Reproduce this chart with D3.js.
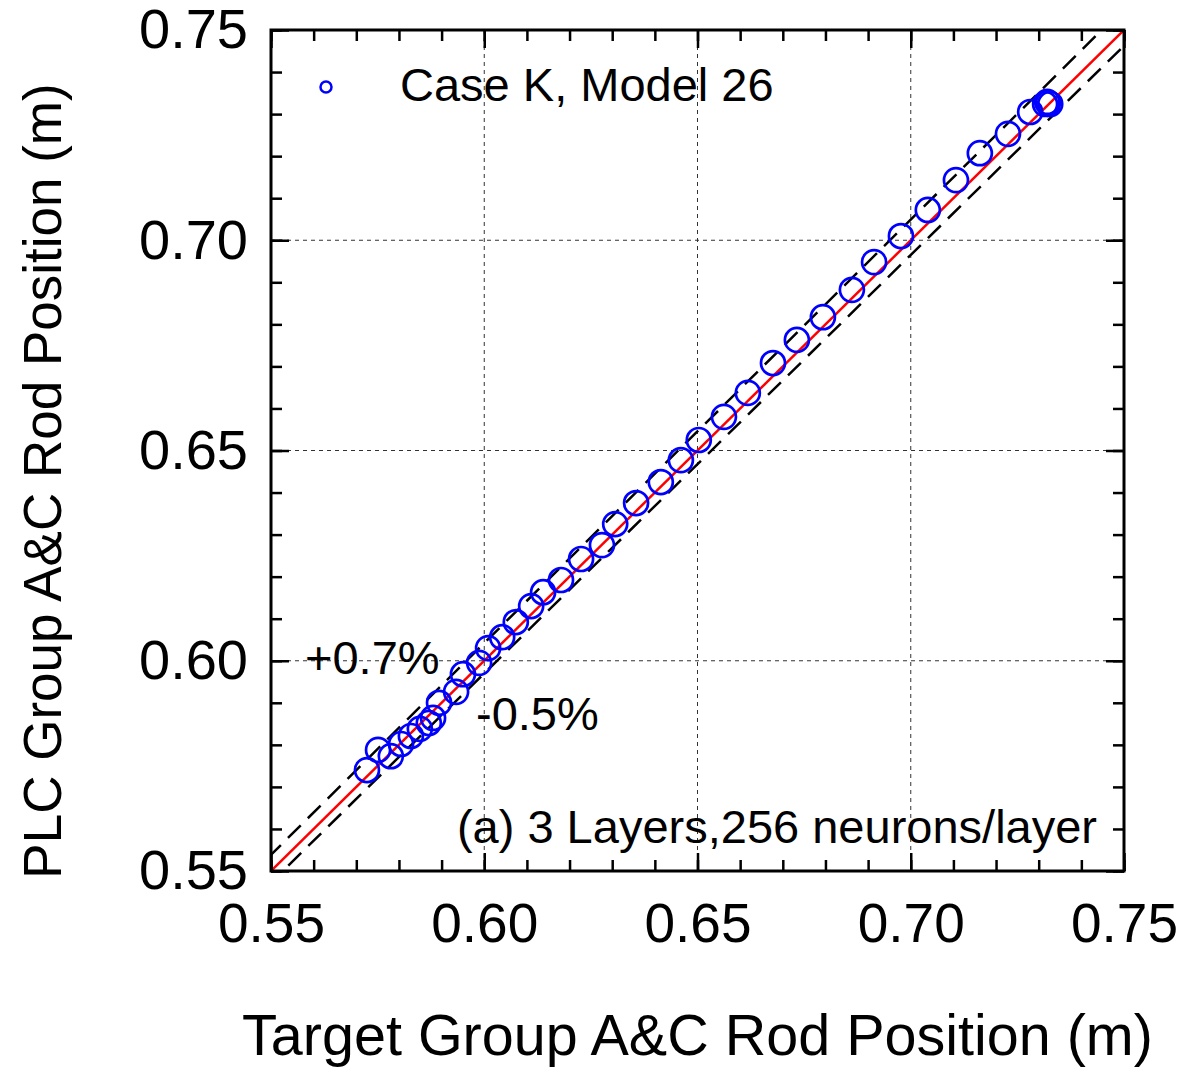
<!DOCTYPE html>
<html>
<head>
<meta charset="utf-8">
<style>
  html, body { margin: 0; padding: 0; background: #fff; }
  svg text { font-family: "Liberation Sans", Arial, sans-serif; fill: #000; }
  .tick line { stroke: #000; stroke-width: 2.5; }
  .domain { display: none; }
  .grid line { stroke: #333; stroke-width: 1; stroke-dasharray: 4,4; }
</style>
</head>
<body>
<div id="chart"></div>
<script src="https://d3js.org/d3.v7.min.js"></script>
<script>

// Target (x) vs PLC (y) group A&C rod position, metres
var targetPos = [0.5725, 0.5751, 0.5781, 0.5805, 0.5828, 0.5849, 0.5870, 0.5880, 0.5894, 0.5934,
                 0.5950, 0.5988, 0.6009, 0.6042, 0.6074, 0.6110, 0.6138, 0.6180, 0.6227, 0.6276,
                 0.6307, 0.6356, 0.6414, 0.6461, 0.6503, 0.6562, 0.6618, 0.6677, 0.6733, 0.6794,
                 0.6862, 0.6914, 0.6977, 0.7040, 0.7106, 0.7162, 0.7228, 0.7280, 0.7315, 0.7322,
                 0.7327, 0.7320];
var plcPos    = [0.5740, 0.5788, 0.5773, 0.5802, 0.5821, 0.5838, 0.5852, 0.5864, 0.5900, 0.5926,
                 0.5968, 0.5995, 0.6030, 0.6056, 0.6092, 0.6130, 0.6163, 0.6192, 0.6242, 0.6275,
                 0.6325, 0.6375, 0.6425, 0.6477, 0.6525, 0.6580, 0.6637, 0.6708, 0.6763, 0.6817,
                 0.6882, 0.6948, 0.7010, 0.7072, 0.7143, 0.7207, 0.7253, 0.7305, 0.7324, 0.7327,
                 0.7324, 0.7329];

var majorTicks = [0.55, 0.60, 0.65, 0.70, 0.75];
var gridTicks = [0.60, 0.65, 0.70];
var minorTicks = d3.range(0, 21).map(function(i) { return 0.55 + i * 0.01; });
var bandFactors = [1.007, 0.995];
var bandLabels = ["+0.7%", "-0.5%"];
var seriesName = "Case K, Model 26";
var noteText = "(a) 3 Layers,256 neurons/layer";

var W = 1184, H = 1068;
var margin = {top: 30, right: 60, bottom: 197, left: 271},
    width = W - margin.left - margin.right,
    height = H - margin.top - margin.bottom;

var x = d3.scaleLinear().domain([0.55, 0.75]).range([0, width]);
var y = d3.scaleLinear().domain([0.55, 0.75]).range([height, 0]);
var fmt = d3.format(".2f");

var svg = d3.select("#chart").append("svg")
    .attr("width", W)
    .attr("height", H)
  .append("g")
    .attr("transform", "translate(" + margin.left + "," + margin.top + ")");

svg.append("defs").append("clipPath").attr("id", "clip")
  .append("rect").attr("width", width).attr("height", height);

// grid
svg.append("g").attr("class", "grid")
  .selectAll("line.v").data(gridTicks).enter().append("line")
    .attr("x1", function(d) { return x(d); }).attr("x2", function(d) { return x(d); })
    .attr("y1", 0).attr("y2", height);
svg.select(".grid")
  .selectAll("line.h").data(gridTicks).enter().append("line")
    .attr("y1", function(d) { return y(d); }).attr("y2", function(d) { return y(d); })
    .attr("x1", 0).attr("x2", width);

// error band lines and 1:1 line
var lines = svg.append("g").attr("clip-path", "url(#clip)");
lines.selectAll("line.band").data(bandFactors).enter().append("line")
    .attr("x1", x(0.54)).attr("y1", function(f) { return y(0.54 * f); })
    .attr("x2", x(0.76)).attr("y2", function(f) { return y(0.76 * f); })
    .attr("stroke", "#000").attr("stroke-width", 2.5).attr("stroke-dasharray", "18,10");
lines.append("line")
    .attr("x1", x(0.55)).attr("y1", y(0.55))
    .attr("x2", x(0.75)).attr("y2", y(0.75))
    .attr("stroke", "#ff0000").attr("stroke-width", 2.5);

// points
svg.append("g").selectAll("circle").data(targetPos).enter().append("circle")
    .attr("cx", function(d) { return x(d); })
    .attr("cy", function(d, i) { return y(plcPos[i]); })
    .attr("r", 12)
    .attr("fill", "none")
    .attr("stroke", "#0000ff")
    .attr("stroke-width", 2.7);

// axes, ticks pointing inward
function axis(gen, ticks, size, labels) {
  return gen.tickValues(ticks).tickSize(-size)
    .tickFormat(labels ? fmt : "").tickPadding(labels ? 32 : 0);
}
svg.append("g").attr("transform", "translate(0," + height + ")")
    .call(axis(d3.axisBottom(x), minorTicks, 11, false));
var xa = svg.append("g").attr("transform", "translate(0," + height + ")")
    .call(axis(d3.axisBottom(x), majorTicks, 18, true));
svg.append("g").call(axis(d3.axisTop(x), minorTicks, 11, false));
svg.append("g").call(axis(d3.axisTop(x), majorTicks, 18, false));
svg.append("g").call(axis(d3.axisLeft(y), minorTicks, 11, false));
var ya = svg.append("g").call(axis(d3.axisLeft(y), majorTicks, 18, true).tickPadding(23));
svg.append("g").attr("transform", "translate(" + width + ",0)")
    .call(axis(d3.axisRight(y), minorTicks, 11, false));
svg.append("g").attr("transform", "translate(" + width + ",0)")
    .call(axis(d3.axisRight(y), majorTicks, 18, false));

xa.selectAll("text").attr("font-size", 55).attr("dy", "0.71em");
ya.selectAll("text").attr("font-size", 56);

// frame
svg.append("rect")
    .attr("width", width).attr("height", height)
    .attr("fill", "none").attr("stroke", "#000").attr("stroke-width", 3);

// axis titles
svg.append("text")
    .attr("x", width / 2).attr("y", 1055 - margin.top)
    .attr("text-anchor", "middle").attr("font-size", 57.5)
    .text("Target Group A&C Rod Position (m)");
svg.append("text")
    .attr("transform", "translate(" + (61 - margin.left) + "," + (481 - margin.top) + ") rotate(-90)")
    .attr("text-anchor", "middle").attr("font-size", 53)
    .text("PLC Group A&C Rod Position (m)");

// legend
svg.append("circle")
    .attr("cx", 326 - margin.left).attr("cy", 87 - margin.top).attr("r", 5.5)
    .attr("fill", "none").attr("stroke", "#0000ff").attr("stroke-width", 2.5);
svg.append("text")
    .attr("x", 400 - margin.left).attr("y", 101 - margin.top)
    .attr("font-size", 47).text(seriesName);

// annotations
svg.append("text")
    .attr("x", 305 - margin.left).attr("y", 674 - margin.top)
    .attr("font-size", 47).text(bandLabels[0]);
svg.append("text")
    .attr("x", 476 - margin.left).attr("y", 730 - margin.top)
    .attr("font-size", 47).text(bandLabels[1]);
svg.append("text")
    .attr("x", 1097 - margin.left).attr("y", 843 - margin.top)
    .attr("text-anchor", "end").attr("font-size", 47).text(noteText);

</script>
</body>
</html>
